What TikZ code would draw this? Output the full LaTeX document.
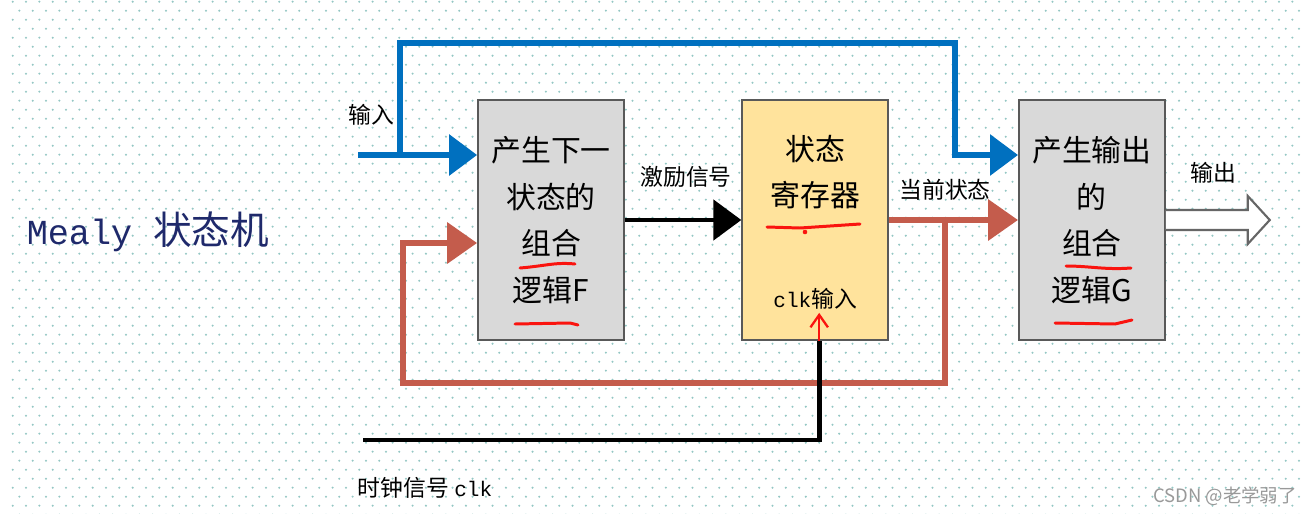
\documentclass[tikz,border=0pt]{standalone}
\usepackage{fontspec}
\setmainfont{Noto Sans CJK SC}
\setmonofont{Liberation Mono}
\usepackage{tikz}
\usetikzlibrary{arrows.meta,calc,positioning}
\definecolor{officeblue}{rgb}{0.0,0.44,0.75}
\definecolor{brickred}{rgb}{0.77,0.36,0.30}
\definecolor{lightgold}{rgb}{1.0,0.89,0.61}
\definecolor{panelgray}{rgb}{0.85,0.85,0.85}
\definecolor{dotteal}{rgb}{0.58,0.78,0.77}
\definecolor{mealynavy}{rgb}{0.12,0.16,0.42}
\definecolor{markred}{rgb}{0.98,0.08,0.06}
\tikzset{
  combo/.style={
    draw=black!65,
    line width=1pt,
    fill=panelgray,
    minimum width=2.92cm,
    minimum height=4.8cm,
    align=center,
    inner sep=0pt,
    font=\fontsize{17}{26.6}\selectfont
  },
  registro/.style={
    combo,
    fill=lightgold
  },
  etiqueta/.style={
    inner sep=0pt,
    align=center,
    font=\fontsize{13}{26.6}\selectfont
  },
  arrowin/.style={
    -{Triangle[length=.56cm,width=.8cm]},
    line width=3.4pt,
    officeblue
  },
  arrowstate/.style={
    -{Triangle[length=.6cm,width=.8cm]},
    line width=3.8pt,
    brickred
  },
  arrowexc/.style={
    -{Triangle[length=.56cm,width=.8cm]},
    line width=2.8pt,
    black
  },
  clkline/.style={
    line width=2.8pt,
    black
  },
  marca/.style={
    markred,
    line width=1.7pt,
    line cap=round
  }
}
\begin{document}
\begin{tikzpicture}[x=.02cm,y=-.02cm]
\useasboundingbox (0,0) rectangle (1303,514);
\fill[white] (0,0) rectangle (1303,514);
% dotted paper
\foreach \r in {0,...,57}{
  \foreach \c in {0,...,97}{
    \fill[dotteal] ({13.33*\c+6.67*mod(\r,2)+12.7},{9*\r+1.7}) circle (.65pt);
  }
}
% the three blocks
\node[combo] (F) at (551,220) {产生下一\\状态的\\组合\\逻辑F};
\node[registro,right=2.33cm of F] (reg) {};
\node[combo,right=2.58cm of reg] (G) {产生输出\\的\\组合\\逻辑G};
\node[etiqueta,font=\fontsize{17}{26.6}\selectfont] (regtxt) at ($(reg.north)+(0,73)$) {状态\\寄存器};
\node[etiqueta] (clkin) at ($(reg.south)+(0,-42)$) {{\ttfamily\fontsize{12}{14}\selectfont clk}输入};
% labels
\node[etiqueta] (inlbl) at (371,115) {输入};
\node[etiqueta] (exclbl) at (686,177) {激励信号};
\node[etiqueta] (statelbl) at (945,190) {当前状态};
\node[etiqueta] (outlbl) at (1213,173) {输出};
\node[etiqueta] (clklbl) at (425,488) {时钟信号 {\ttfamily\fontsize{12}{14}\selectfont clk}};
\node[etiqueta,text=mealynavy,font=\fontsize{22}{24}\selectfont] (titulo) at (148,232) {{\ttfamily\fontsize{20}{22}\selectfont Mealy }状态机};
\node[etiqueta,text=black!40,font=\fontsize{10.5}{12}\selectfont] (firma) at (1225,496) {CSDN @老学弱了};
% input
\coordinate (inp) at (358,155);
\draw[arrowin] (inp) -- (inp -| F.west);
\draw[arrowin] ($(inp)+(42,0)$) |- (955,43) |- (inp -| G.west);
% state feedback
\draw[arrowexc] (F) -- (reg);
\draw[arrowstate] (reg.east) -- (G.west);
\draw[arrowstate] ($(reg.east)+(56,0)$) |- (403,383) |- ($(F.west)+(0,23)$);
% clock
\coordinate (clk) at (363,440);
\draw[clkline] (clk) -| ($(reg.south)+(4,0)$);
\draw[markred,line width=1.3pt,-{Straight Barb[length=2.5mm,width=3.5mm]}] ($(reg.south)+(4,0)$) -- ++(0,-28);
% output
\coordinate (out) at (G.east);
\draw[black!60,line width=1.2pt,fill=white] ($(out)+(0,-10)$) -- ++(82,0) -- ++(0,-14) -- ++(22,24) -- ++(-22,24) -- ++(0,-14) -- ($(out)+(0,10)$);
% hand marks
\draw[marca] (520,268) .. controls (545,266) and (555,262) .. (575,264);
\draw[marca] (515,324) -- (570,323) -- (578,325);
\draw[marca] (767,227) -- (800,228) -- (860,224);
\fill[markred] (805,232) circle (1.3pt);
\draw[marca] (1066,266) .. controls (1090,266) and (1105,270) .. (1131,268);
\draw[marca] (1055,323) -- (1115,324) -- (1132,320);
\end{tikzpicture}
\end{document}
